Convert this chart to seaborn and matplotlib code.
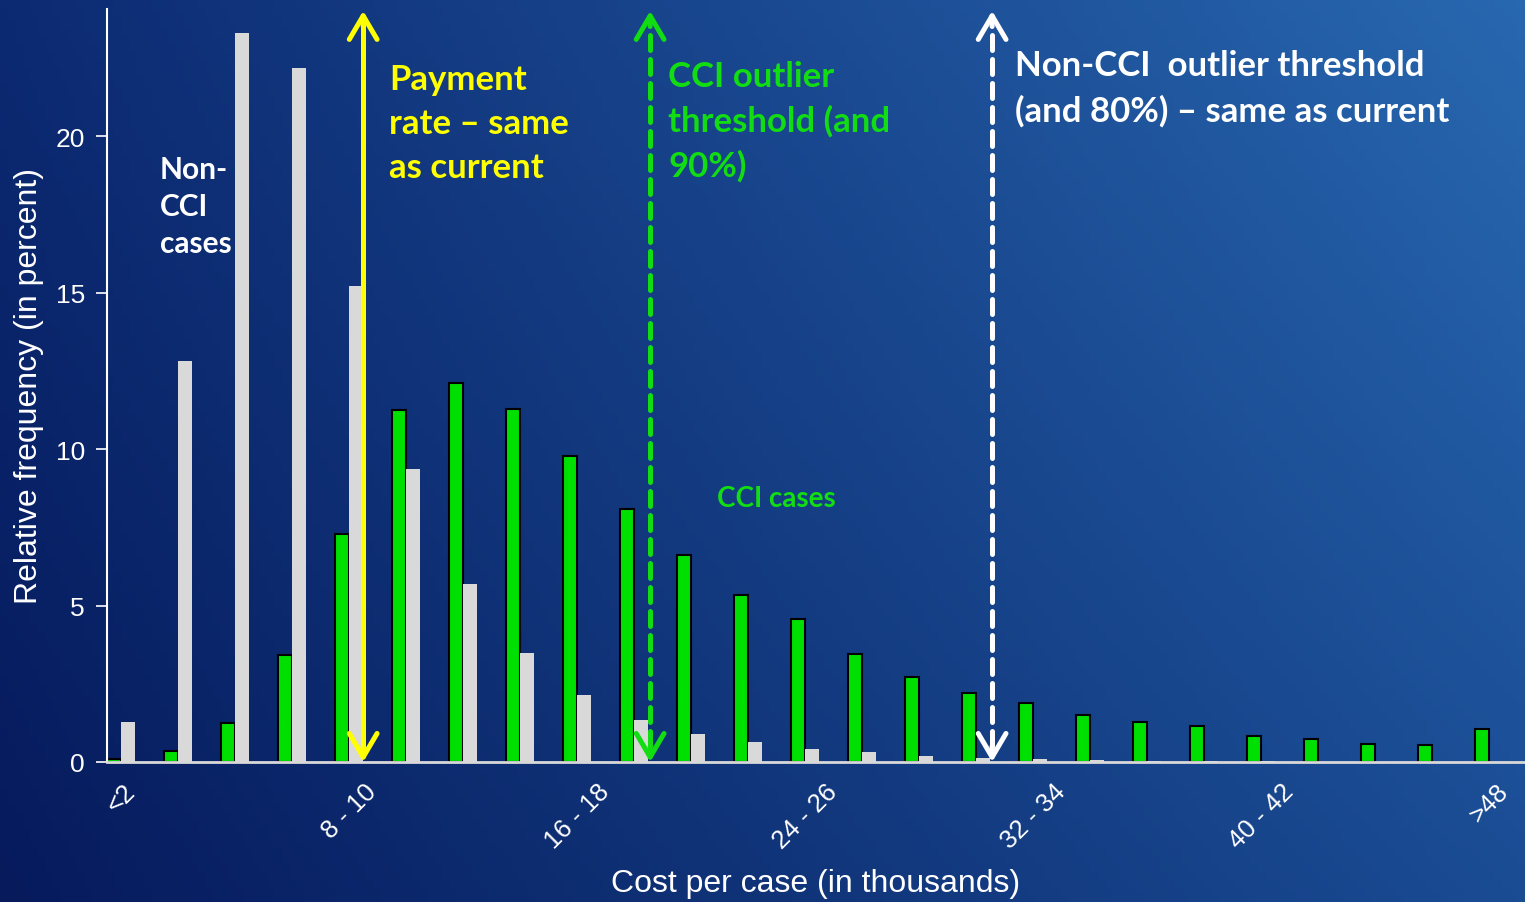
import numpy as np
import pandas as pd
import matplotlib
matplotlib.use("Agg")
import matplotlib.pyplot as plt
import seaborn as sns
from matplotlib.colors import to_rgb

# --------------------------------------------------
# DATA
# --------------------------------------------------
cost_bins = ["<2", "2 - 4", "4 - 6", "6 - 8", "8 - 10", "10 - 12", "12 - 14",
             "14 - 16", "16 - 18", "18 - 20", "20 - 22", "22 - 24", "24 - 26",
             "26 - 28", "28 - 30", "30 - 32", "32 - 34", "34 - 36", "36 - 38",
             "38 - 40", "40 - 42", "42 - 44", "44 - 46", "46 - 48", ">48"]
cci_pct = [0.08, 0.35, 1.25, 3.42, 7.28, 11.25, 12.1, 11.28, 9.78, 8.08, 6.61,
           5.34, 4.57, 3.45, 2.72, 2.2, 1.9, 1.5, 1.29, 1.16, 0.82, 0.72, 0.56,
           0.53, 1.04]
non_cci_pct = [1.27, 12.8, 23.3, 22.17, 15.2, 9.36, 5.69, 3.48, 2.14, 1.34,
               0.89, 0.64, 0.42, 0.31, 0.18, 0.13, 0.09, 0.06, 0.04, 0.03,
               0.02, 0.01, 0.005, 0.005, 0.01]
shown_ticks = ["<2", "8 - 10", "16 - 18", "24 - 26", "32 - 34", "40 - 42", ">48"]
groups = ["CCI", "Non-CCI"]

df = pd.DataFrame({
    "bin": cost_bins * 2,
    "group": ["CCI"] * len(cost_bins) + ["Non-CCI"] * len(cost_bins),
    "pct": cci_pct + non_cci_pct,
})

# --------------------------------------------------
# THEME
# --------------------------------------------------
sns.set_theme(style="white")
plt.rcParams['font.family'] = ['Liberation Sans', 'DejaVu Sans']

GREEN = "#00e000"
GREY = "#d9d9d9"
YELLOW = "#ffff00"
TXT_GREEN = "#12dd12"

fig = plt.figure(figsize=(15.25, 9.03), dpi=100)

# gradient background (dark navy bottom-left -> lighter blue top-right)
bg = fig.add_axes([0, 0, 1, 1], zorder=-10)
c_bl, c_br = np.array(to_rgb("#061a5c")), np.array(to_rgb("#1a4c94"))
c_tl, c_tr = np.array(to_rgb("#0c2a72")), np.array(to_rgb("#2868b0"))
u = np.linspace(0, 1, 200)[None, :, None]
v = np.linspace(1, 0, 120)[:, None, None]
img = (c_bl * (1 - u) * (1 - v) + c_br * u * (1 - v)
       + c_tl * (1 - u) * v + c_tr * u * v)
bg.imshow(img, aspect="auto", extent=[0, 1, 0, 1])
bg.set_axis_off()

ax = fig.add_axes([107 / 1525, 1 - 763 / 903, 1 - 107 / 1525, (763 - 10) / 903])
ax.set_facecolor("none")

sns.barplot(data=df, x="bin", y="pct", hue="group", hue_order=groups,
            order=cost_bins, palette=[GREEN, GREY], width=0.5, ax=ax,
            legend=False, saturation=1)

for bar in ax.containers[0]:
    bar.set_edgecolor("black")
    bar.set_linewidth(1.5)
for bar in ax.containers[1]:
    bar.set_edgecolor("none")

ax.set_xlim(-0.25, 24.63)
ax.set_ylim(0, 24.06)

# axes styling
for side in ["top", "right"]:
    ax.spines[side].set_visible(False)
ax.spines["left"].set_color("white")
ax.spines["left"].set_linewidth(1.5)
ax.spines["bottom"].set_color(GREY)
ax.spines["bottom"].set_linewidth(2)

ax.set_yticks([0, 5, 10, 15, 20])
ax.tick_params(axis="y", colors="white", length=8, width=1.2, direction="out",
               labelsize=19, left=True, pad=8)
ax.set_xticks([cost_bins.index(t) for t in shown_ticks])
ax.set_xticklabels(shown_ticks, rotation=45, ha="center", color="white",
                   fontsize=18.5)
ax.tick_params(axis="x", length=0, pad=12)

ax.set_ylabel("Relative frequency (in percent)", color="white", fontsize=23,
              labelpad=8)
ax.set_xlabel("Cost per case (in thousands)", color="white", fontsize=23,
              labelpad=11)

# --------------------------------------------------
# THRESHOLD ARROWS
# --------------------------------------------------
def threshold_arrow(x, color, dashed):
    top = 24.0
    if dashed:
        ax.plot([x, x], [0.5, top - 0.6], color=color, lw=3.6,
                dashes=(3, 1.8), solid_capstyle="round",
                dash_capstyle="round")
    else:
        ax.plot([x, x], [0.2, top - 0.2], color=color, lw=3.6)
    for tip, tail in [(top, top - 0.5), (0, 0.5)]:
        ax.annotate("", xy=(x, tip), xytext=(x, tail),
                    arrowprops=dict(arrowstyle="->,head_length=0.85,head_width=0.5",
                                    color=color, lw=3.6, mutation_scale=20,
                                    shrinkA=0, shrinkB=0, capstyle="round"))

threshold_arrow(4.245, YELLOW, False)
threshold_arrow(9.28, TXT_GREEN, True)
threshold_arrow(15.28, "white", True)

# --------------------------------------------------
# ANNOTATIONS
# --------------------------------------------------
lab = dict(family=["Lato", "DejaVu Sans"], weight="bold", va="top", ha="left")
ax.text(0.68, 19.4, "Non-\nCCI\ncases", color="white", fontsize=21.5,
        linespacing=1.39, **lab)
ax.text(4.7, 22.33, "Payment\nrate \u2013 same\nas current", color=YELLOW,
        fontsize=25, linespacing=1.46, **lab)
ax.text(9.6, 22.43, "CCI outlier\nthreshold (and\n90%)", color=TXT_GREEN,
        fontsize=25, linespacing=1.46, **lab)
ax.text(15.68, 22.77, "Non-CCI  outlier threshold\n(and 80%) \u2013 same as current",
        color="white", fontsize=25, linespacing=1.46, **lab)
ax.text(10.46, 8.85, "CCI cases", color=TXT_GREEN, fontsize=20, **lab)

fig.savefig("out.png", dpi=100)
